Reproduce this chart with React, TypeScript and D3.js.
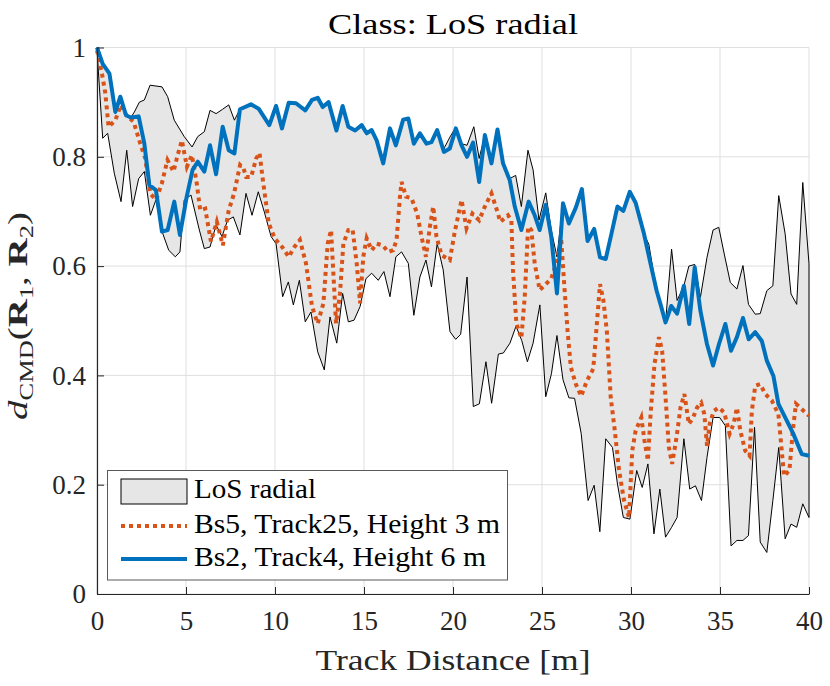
import { useEffect, useRef } from "react";
import * as d3 from "d3";

type Pt = [number, number];

const xTicks = [0, 5, 10, 15, 20, 25, 30, 35, 40];
const yTicks = [0, 0.2, 0.4, 0.6, 0.8, 1];
const legendLabels = ["LoS radial", "Bs5, Track25, Height 3 m", "Bs2, Track4, Height 6 m"];

// envelope of the class (upper edge)
const losUpper: Pt[] = [
  [0, 1.0], [0.32, 0.97], [0.7, 0.952], [1.03, 0.882], [1.31, 0.91], [1.63, 0.876], [1.9, 0.872],
  [2.1, 0.882], [2.38, 0.9], [2.66, 0.904], [2.98, 0.931], [3.65, 0.928], [3.97, 0.91], [4.34, 0.867],
  [4.9, 0.837], [5.34, 0.818], [5.66, 0.837], [6.03, 0.846], [6.35, 0.885], [6.69, 0.879], [7.06, 0.887],
  [7.4, 0.895], [7.72, 0.867], [8.03, 0.887], [8.65, 0.896], [9.08, 0.888], [9.68, 0.858], [10.06, 0.893],
  [10.39, 0.852], [10.77, 0.899], [11.18, 0.898], [11.7, 0.885], [12.08, 0.904], [12.4, 0.908],
  [12.68, 0.891], [13.01, 0.9], [13.45, 0.848], [13.8, 0.893], [14.12, 0.855], [14.5, 0.848],
  [14.87, 0.858], [15.15, 0.843], [15.43, 0.849], [15.71, 0.83], [16.08, 0.788], [16.46, 0.852],
  [16.79, 0.821], [17.2, 0.868], [17.49, 0.87], [17.8, 0.824], [18.14, 0.843], [18.51, 0.824],
  [18.79, 0.827], [19.11, 0.849], [19.49, 0.815], [19.86, 0.838], [20.16, 0.854], [20.48, 0.824],
  [20.79, 0.821], [21.17, 0.855], [21.47, 0.797], [21.79, 0.84], [22.16, 0.788], [22.5, 0.85],
  [22.81, 0.788], [23.19, 0.76], [23.52, 0.766], [23.84, 0.709], [24.21, 0.812], [24.5, 0.776],
  [24.83, 0.684], [25.21, 0.734], [25.52, 0.666], [25.84, 0.617], [26.18, 0.715], [26.51, 0.678],
  [26.9, 0.707], [27.24, 0.741], [27.56, 0.646], [27.93, 0.668], [28.26, 0.616], [28.58, 0.613],
  [28.9, 0.659], [29.24, 0.709], [29.57, 0.701], [29.93, 0.736], [30.26, 0.716], [30.73, 0.659],
  [31.0, 0.64], [31.44, 0.555], [31.66, 0.53], [31.94, 0.497], [32.28, 0.631], [32.59, 0.537],
  [32.97, 0.564], [33.25, 0.6], [33.58, 0.603], [33.9, 0.543], [34.27, 0.616], [34.61, 0.666],
  [34.93, 0.671], [35.24, 0.622], [35.58, 0.57], [35.95, 0.558], [36.29, 0.601], [36.6, 0.53],
  [36.98, 0.512], [37.26, 0.513], [37.63, 0.555], [37.97, 0.564], [38.3, 0.729], [38.66, 0.659],
  [38.99, 0.549], [39.31, 0.53], [39.65, 0.753], [40, 0.604],
];

// envelope of the class (lower edge)
const losLower: Pt[] = [
  [0, 0.995], [0.32, 0.834], [0.6, 0.843], [0.97, 0.77], [1.35, 0.718], [1.67, 0.812], [2.0, 0.709],
  [2.34, 0.76], [2.66, 0.773], [3.0, 0.693], [3.31, 0.721], [3.69, 0.66], [4.03, 0.629], [4.4, 0.617],
  [4.66, 0.626], [4.9, 0.721], [5.28, 0.73], [5.75, 0.666], [6.03, 0.632], [6.35, 0.635], [6.69, 0.675],
  [7.02, 0.654], [7.34, 0.684], [7.66, 0.69], [8.03, 0.657], [8.37, 0.733], [8.71, 0.693], [9.06, 0.736],
  [9.4, 0.699], [9.78, 0.654], [10.06, 0.641], [10.43, 0.544], [10.75, 0.571], [11.03, 0.529],
  [11.37, 0.574], [11.7, 0.498], [12.02, 0.516], [12.4, 0.443], [12.77, 0.41], [13.09, 0.507],
  [13.47, 0.459], [13.8, 0.55], [14.12, 0.498], [14.44, 0.501], [14.78, 0.526], [15.11, 0.577],
  [15.43, 0.587], [15.8, 0.574], [16.12, 0.59], [16.46, 0.544], [16.79, 0.617], [17.11, 0.626],
  [17.49, 0.605], [17.8, 0.51], [18.14, 0.58], [18.48, 0.611], [18.79, 0.562], [19.11, 0.641],
  [19.45, 0.593], [19.83, 0.48], [20.15, 0.466], [20.43, 0.475], [20.79, 0.58], [21.14, 0.343],
  [21.48, 0.348], [21.85, 0.425], [22.17, 0.349], [22.55, 0.439], [22.83, 0.441], [23.2, 0.459],
  [23.54, 0.49], [23.86, 0.464], [24.18, 0.425], [24.5, 0.459], [24.88, 0.529], [25.21, 0.361],
  [25.53, 0.403], [25.84, 0.473], [26.18, 0.392], [26.51, 0.359], [26.83, 0.358], [27.2, 0.294],
  [27.59, 0.171], [27.93, 0.199], [28.25, 0.114], [28.58, 0.284], [28.96, 0.268], [29.24, 0.201],
  [29.57, 0.14], [29.94, 0.137], [30.32, 0.226], [30.63, 0.195], [30.95, 0.238], [31.29, 0.11],
  [31.62, 0.192], [31.94, 0.104], [32.28, 0.122], [32.59, 0.14], [32.97, 0.284], [33.3, 0.192],
  [33.62, 0.198], [33.96, 0.171], [34.27, 0.25], [34.61, 0.323], [34.98, 0.323], [35.3, 0.308],
  [35.62, 0.088], [35.95, 0.098], [36.29, 0.098], [36.6, 0.107], [36.94, 0.305], [37.26, 0.095],
  [37.63, 0.076], [37.97, 0.171], [38.3, 0.268], [38.66, 0.101], [38.99, 0.128], [39.31, 0.122],
  [39.65, 0.165], [40, 0.14],
];

const bs5Track25: Pt[] = [
  [0, 0.995], [0.28, 0.952], [0.47, 0.916], [0.65, 0.855], [1.03, 0.867], [1.35, 0.895], [1.65, 0.876],
  [2.06, 0.864], [2.43, 0.824], [2.71, 0.797], [2.99, 0.733], [3.32, 0.721], [3.64, 0.751], [3.96, 0.794],
  [4.3, 0.773], [4.53, 0.803], [4.77, 0.83], [5.05, 0.782], [5.33, 0.803], [5.58, 0.757], [5.8, 0.702],
  [6.08, 0.705], [6.4, 0.645], [6.73, 0.681], [7.07, 0.638], [7.4, 0.702], [7.7, 0.733], [8.04, 0.785],
  [8.23, 0.779], [8.38, 0.763], [8.66, 0.763], [8.94, 0.797], [9.13, 0.807], [9.32, 0.757], [9.65, 0.678],
  [10.0, 0.65], [10.4, 0.635], [10.77, 0.617], [11.09, 0.635], [11.4, 0.648], [11.74, 0.605],
  [12.08, 0.526], [12.4, 0.495], [12.72, 0.532], [12.96, 0.641], [13.15, 0.666], [13.43, 0.495],
  [13.65, 0.55], [13.84, 0.641], [14.12, 0.666], [14.36, 0.667], [14.59, 0.605], [14.78, 0.532],
  [14.96, 0.617], [15.15, 0.651], [15.43, 0.629], [15.71, 0.641], [16.05, 0.638], [16.36, 0.626],
  [16.64, 0.629], [16.83, 0.648], [17.02, 0.727], [17.11, 0.754], [17.36, 0.727], [17.67, 0.724],
  [17.99, 0.696], [18.23, 0.654], [18.48, 0.617], [18.7, 0.672], [18.89, 0.709], [19.07, 0.654],
  [19.36, 0.62], [19.82, 0.611], [20.1, 0.663], [20.48, 0.721], [20.76, 0.669], [21.09, 0.696],
  [21.47, 0.684], [21.79, 0.709], [22.16, 0.733], [22.44, 0.705], [22.66, 0.681], [23.09, 0.693],
  [23.28, 0.684], [23.37, 0.593], [23.56, 0.495], [23.84, 0.468], [24.03, 0.544], [24.22, 0.672],
  [24.4, 0.666], [24.59, 0.605], [24.87, 0.556], [25.15, 0.565], [25.52, 0.577], [25.8, 0.605],
  [26.08, 0.648], [26.27, 0.556], [26.44, 0.48], [26.62, 0.415], [26.9, 0.384], [27.2, 0.362],
  [27.52, 0.39], [27.88, 0.412], [28.08, 0.494], [28.26, 0.567], [28.45, 0.537], [28.64, 0.482],
  [28.86, 0.36], [29.09, 0.299], [29.33, 0.226], [29.61, 0.171], [29.89, 0.14], [30.07, 0.262],
  [30.26, 0.299], [30.58, 0.323], [30.76, 0.28], [30.95, 0.244], [31.1, 0.329], [31.32, 0.421],
  [31.57, 0.47], [31.75, 0.445], [31.94, 0.36], [32.13, 0.268], [32.31, 0.238], [32.56, 0.287],
  [32.78, 0.341], [33.0, 0.366], [33.25, 0.311], [33.49, 0.323], [33.71, 0.341], [33.94, 0.35],
  [34.12, 0.329], [34.27, 0.271], [34.42, 0.311], [34.65, 0.335], [34.93, 0.341], [35.24, 0.332],
  [35.54, 0.293], [35.76, 0.311], [35.95, 0.341], [36.14, 0.299], [36.42, 0.262], [36.66, 0.253],
  [36.79, 0.335], [36.98, 0.381], [37.26, 0.384], [37.54, 0.366], [37.91, 0.354], [38.28, 0.329],
  [38.47, 0.262], [38.6, 0.216], [38.9, 0.226], [39.09, 0.299], [39.27, 0.348], [39.5, 0.341],
  [40, 0.326],
];

const bs2Track4: Pt[] = [
  [0, 1.0], [0.32, 0.97], [0.7, 0.952], [1.03, 0.882], [1.31, 0.91], [1.63, 0.876], [1.9, 0.872],
  [2.34, 0.874], [2.66, 0.824], [2.94, 0.748], [3.31, 0.739], [3.65, 0.663], [3.97, 0.666], [4.34, 0.718],
  [4.66, 0.657], [5.04, 0.727], [5.37, 0.776], [5.66, 0.791], [6.03, 0.773], [6.35, 0.821], [6.69, 0.768],
  [7.06, 0.855], [7.4, 0.812], [7.72, 0.806], [8.03, 0.887], [8.65, 0.896], [9.08, 0.888], [9.68, 0.858],
  [10.06, 0.893], [10.39, 0.852], [10.77, 0.899], [11.18, 0.898], [11.7, 0.885], [12.08, 0.904],
  [12.4, 0.908], [12.68, 0.891], [13.01, 0.9], [13.45, 0.848], [13.8, 0.893], [14.12, 0.855],
  [14.5, 0.848], [14.87, 0.858], [15.15, 0.843], [15.43, 0.849], [15.71, 0.83], [16.08, 0.788],
  [16.46, 0.852], [16.79, 0.821], [17.2, 0.868], [17.49, 0.87], [17.8, 0.824], [18.14, 0.843],
  [18.51, 0.824], [18.79, 0.827], [19.11, 0.849], [19.49, 0.809], [19.82, 0.815], [20.16, 0.852],
  [20.48, 0.821], [20.79, 0.8], [21.13, 0.826], [21.47, 0.754], [21.79, 0.84], [22.16, 0.788],
  [22.5, 0.85], [22.81, 0.788], [23.19, 0.757], [23.47, 0.709], [23.84, 0.666], [24.25, 0.718],
  [24.59, 0.693], [24.87, 0.666], [25.21, 0.712], [25.52, 0.654], [25.84, 0.55], [26.18, 0.715],
  [26.51, 0.678], [26.9, 0.707], [27.24, 0.741], [27.56, 0.646], [27.93, 0.668], [28.26, 0.616],
  [28.58, 0.613], [28.9, 0.659], [29.24, 0.709], [29.57, 0.701], [29.93, 0.736], [30.26, 0.716],
  [30.73, 0.659], [31.1, 0.604], [31.44, 0.555], [31.66, 0.53], [31.94, 0.497], [32.26, 0.527],
  [32.59, 0.513], [32.97, 0.564], [33.27, 0.494], [33.58, 0.598], [33.9, 0.518], [34.27, 0.457],
  [34.61, 0.418], [34.94, 0.457], [35.3, 0.494], [35.62, 0.445], [35.95, 0.47], [36.29, 0.505],
  [36.61, 0.466], [36.98, 0.479], [37.35, 0.463], [37.63, 0.427], [38.0, 0.399], [38.28, 0.348],
  [38.66, 0.323], [39.12, 0.293], [39.59, 0.256], [40, 0.253],
];

const BLUE = "#0072BD";
const ORANGE = "#D95319";
const AXIS = "#262626";
const FONT = "'Liberation Serif', 'Times New Roman', serif";

const App = () => {
  const svgRef = useRef<SVGSVGElement | null>(null);

  useEffect(() => {
    document.body.style.margin = "0";
    const svg = d3.select(svgRef.current);
    svg.selectAll("*").remove();

    const width = 830;
    const height = 686;
    const margin = { top: 47.5, right: 21, bottom: 92, left: 97 };

    svg.attr("width", width).attr("height", height);

    const x = d3.scaleLinear().domain([0, 40]).range([margin.left, width - margin.right]);
    const y = d3.scaleLinear().domain([0, 1]).range([height - margin.bottom, margin.top]);

    // grid
    const grid = svg.append("g").attr("stroke", "#dfdfdf").attr("stroke-width", 1);
    grid.selectAll("line.vx")
      .data(xTicks)
      .enter()
      .append("line")
      .attr("x1", (d) => x(d)).attr("x2", (d) => x(d))
      .attr("y1", y(0)).attr("y2", y(1));
    grid.selectAll("line.hy")
      .data(yTicks)
      .enter()
      .append("line")
      .attr("y1", (d) => y(d)).attr("y2", (d) => y(d))
      .attr("x1", x(0)).attr("x2", x(40));

    const line = d3.line<Pt>().x((d) => x(d[0])).y((d) => y(d[1]));

    // class envelope
    const band = [...losUpper, ...losLower.slice().reverse()];
    svg.append("path")
      .attr("d", line(band) + "Z")
      .attr("fill", "#e6e6e6")
      .attr("stroke", "#000")
      .attr("stroke-width", 1)
      .attr("stroke-linejoin", "miter");

    svg.append("path")
      .datum(bs5Track25)
      .attr("d", line)
      .attr("fill", "none")
      .attr("stroke", ORANGE)
      .attr("stroke-width", 4)
      .attr("stroke-dasharray", "4,4");

    svg.append("path")
      .datum(bs2Track4)
      .attr("d", line)
      .attr("fill", "none")
      .attr("stroke", BLUE)
      .attr("stroke-width", 4)
      .attr("stroke-linejoin", "round");

    // axes
    const xAxis = svg.append("g")
      .attr("transform", `translate(0,${y(0)})`)
      .call(d3.axisBottom(x).tickValues(xTicks).tickSizeInner(-7).tickSizeOuter(0).tickPadding(17));
    const yAxis = svg.append("g")
      .attr("transform", `translate(${x(0)},0)`)
      .call(d3.axisLeft(y).tickValues(yTicks).tickFormat((d) => String(d)).tickSizeInner(-7).tickSizeOuter(0).tickPadding(11));
    [xAxis, yAxis].forEach((a) => {
      a.attr("font-family", FONT).attr("font-size", 27);
      a.select(".domain").attr("stroke", AXIS).attr("stroke-width", 1.2);
      a.selectAll(".tick line").attr("stroke", AXIS);
      a.selectAll(".tick text").attr("fill", AXIS);
    });

    // title
    svg.append("text")
      .attr("x", (x(0) + x(40)) / 2)
      .attr("y", 34)
      .attr("text-anchor", "middle")
      .attr("font-family", FONT)
      .attr("font-size", 29)
      .attr("textLength", 250)
      .attr("lengthAdjust", "spacingAndGlyphs")
      .text("Class: LoS radial");

    // x label
    svg.append("text")
      .attr("x", (x(0) + x(40)) / 2)
      .attr("y", 670)
      .attr("text-anchor", "middle")
      .attr("font-family", FONT)
      .attr("font-size", 29)
      .attr("fill", AXIS)
      .attr("textLength", 275)
      .attr("lengthAdjust", "spacingAndGlyphs")
      .text("Track Distance [m]");

    // y label
    const yl = svg.append("text")
      .attr("transform", "translate(27,316) rotate(-90)")
      .attr("text-anchor", "middle")
      .attr("font-family", FONT)
      .attr("font-size", 28)
      .attr("fill", AXIS)
      .attr("textLength", 208)
      .attr("lengthAdjust", "spacingAndGlyphs");
    yl.append("tspan").attr("font-style", "italic").text("d");
    yl.append("tspan").attr("font-size", 19).attr("dy", 6).text("CMD");
    yl.append("tspan").attr("dy", -6).text("(");
    yl.append("tspan").attr("font-weight", "bold").text("R");
    yl.append("tspan").attr("font-size", 19).attr("dy", 6).text("1");
    yl.append("tspan").attr("dy", -6).text(", ");
    yl.append("tspan").attr("font-weight", "bold").text("R");
    yl.append("tspan").attr("font-size", 19).attr("dy", 6).text("2");
    yl.append("tspan").attr("dy", -6).text(")");

    // legend
    const lg = svg.append("g");
    lg.append("rect")
      .attr("x", 107.5).attr("y", 470.5).attr("width", 400).attr("height", 109.5)
      .attr("fill", "#fff").attr("stroke", "#5a5a5a").attr("stroke-width", 1);
    lg.append("rect")
      .attr("x", 121).attr("y", 479).attr("width", 66).attr("height", 25)
      .attr("fill", "#e6e6e6").attr("stroke", "#000").attr("stroke-width", 1);
    lg.append("line")
      .attr("x1", 121).attr("x2", 187).attr("y1", 526).attr("y2", 526)
      .attr("stroke", ORANGE).attr("stroke-width", 4).attr("stroke-dasharray", "4,4");
    lg.append("line")
      .attr("x1", 121).attr("x2", 187).attr("y1", 559).attr("y2", 559)
      .attr("stroke", BLUE).attr("stroke-width", 4);
    const lens = [122, 306, 292];
    const bases = [498, 533, 566];
    legendLabels.forEach((t, i) => {
      lg.append("text")
        .attr("x", 194)
        .attr("y", bases[i])
        .attr("font-family", FONT)
        .attr("font-size", 27)
        .attr("textLength", lens[i])
        .attr("lengthAdjust", "spacingAndGlyphs")
        .text(t);
    });
  }, []);

  return <svg ref={svgRef} style={{ display: "block" }} />;
};

export default App;
